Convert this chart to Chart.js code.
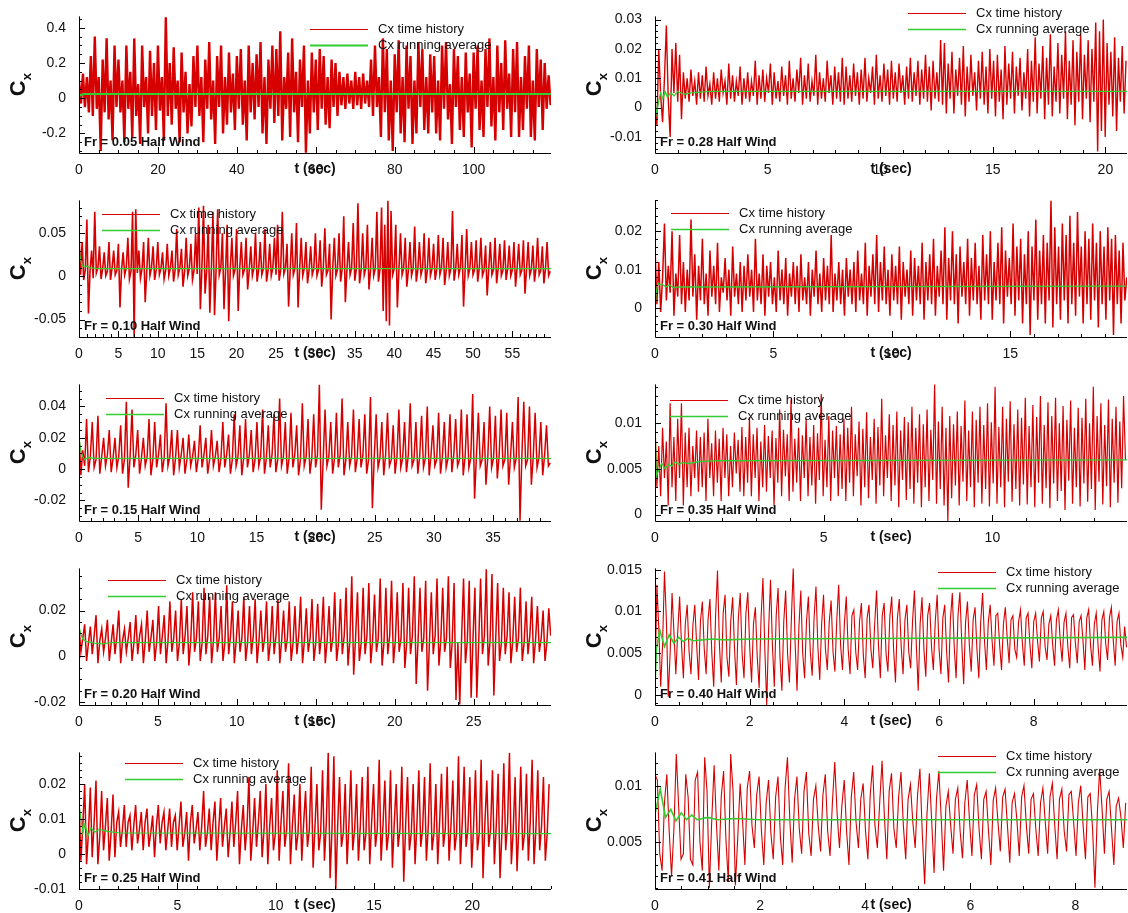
<!DOCTYPE html>
<html>
<head>
<meta charset="utf-8">
<title>Cx time history - Half Wind</title>
<script src="https://cdn.jsdelivr.net/npm/chart.js@4.4.0/dist/chart.umd.min.js"></script>
<style>
    html, body { margin: 0; padding: 0; background: #fff; overflow: hidden; }
    #wrap { position: relative; width: 1128px; height: 913px; }
    #wrap canvas { position: absolute; }
</style>
</head>
<body>
<div id="wrap"></div>
<script>
// ---------- data ----------

// Fr = 0.05, sample step 0.5 s
const dt005 = 0.5;
const cx005 = [
    .1,-.03,.14,-.05,.12,-.08,.24,-.1,.35,-.06,.12,-.3,.22,-.08,.34,-.12,.1,-.24,.3,-.05,
    .22,-.08,.1,-.25,.3,-.06,.15,-.22,.34,-.1,.08,-.26,.3,-.05,.12,-.2,.27,-.1,.2,-.18,
    .3,-.07,.12,-.24,.46,-.1,.2,-.15,.29,-.06,.1,-.25,.26,-.08,.15,-.2,.08,-.16,.24,-.05,
    .3,-.1,.12,-.25,.22,-.06,.32,-.12,.1,-.26,.24,-.05,.3,-.2,.12,-.15,.26,-.08,.14,-.18,
    .24,-.06,.28,-.15,.1,-.24,.3,-.08,.2,-.12,.25,-.05,.32,-.2,.12,-.26,.22,-.06,.3,-.14,
    .28,-.1,.38,-.24,.12,-.06,.26,-.22,.34,-.08,.15,-.25,.22,-.05,.3,-.31,.1,-.2,.26,-.08,
    .22,-.18,.28,-.06,.24,-.15,.12,-.17,.22,-.05,.2,-.1,.15,-.04,.12,-.06,.14,-.03,.1,-.06,
    .15,-.04,.12,-.06,.14,-.03,.1,-.05,.22,-.1,.3,-.05,.12,-.22,.34,-.08,.28,-.24,.1,-.3,
    .25,-.08,.33,-.2,.12,-.25,.3,-.06,.24,-.26,.1,-.2,.32,-.05,.28,-.18,.12,-.2,.25,-.08,
    .24,-.2,.1,-.24,.3,-.06,.32,-.12,.08,-.26,.28,-.05,.24,-.18,.12,-.22,.26,-.08,.14,-.28,
    .26,-.06,.3,-.18,.1,-.22,.28,-.05,.34,-.16,.12,-.24,.3,-.08,.2,-.18,.33,-.06,.14,-.22,
    .28,-.08,.32,-.22,.12,-.18,.24,-.06,.3,-.22,.1,-.24,.28,-.05,.22,-.18,.2,-.06,.13,-.04
];
const avgT005 = [0, 0.5, 1.5, 119.6];
const avg005 = [.012, .02, .024, .024];
const xTicks005 = [0, 20, 40, 60, 80, 100];
const yTicks005 = [-0.2, 0, 0.2, 0.4];

// Fr = 0.10, sample step 0.2 s
const dt010 = 0.2;
const cx010 = [
    .05,.002,.04,-.004,.008,.066,-.043,.006,.03,-.002,.075,.004,.01,.035,-.003,.009,.028,.001,.006,.04,-.004,.01,.03,.002,.007,
    .038,-.036,.008,.028,.002,.01,.045,-.003,.006,.075,-.07,.078,.004,.03,-.002,.009,.04,-.03,.006,.045,.001,.01,.035,-.004,.008,
    .04,.002,.009,.028,-.003,.007,.038,.001,.01,.03,-.006,.008,.055,.002,.01,.032,-.012,.006,.045,.001,.009,.038,-.004,.007,.05,
    .003,.08,-.038,.01,.082,-.02,.006,.06,-.042,.009,.075,-.045,.008,.078,.002,.01,.05,-.038,.007,.06,-.052,.009,.045,.001,.008,
    .055,-.04,.01,.04,.002,.008,.045,-.015,.007,.035,.001,.01,.05,-.006,.008,.04,.002,.009,.055,-.006,.007,.038,.001,.01,.045,
    .002,.06,-.005,.008,.075,.003,.01,.038,-.035,.007,.05,.002,.009,.062,-.036,.008,.045,.001,.01,.04,-.008,.007,.035,.002,.009,
    .05,.001,.008,.042,-.012,.009,.056,.002,.007,.038,-.05,.01,.045,.001,.008,.05,-.006,.009,.07,-.03,.007,.04,.002,.01,.062,
    -.005,.009,.085,-.008,.007,.05,.002,.01,.06,-.015,.008,.045,.001,.009,.075,-.006,.008,.08,-.04,.06,-.052,.088,-.057,.076,.002,
    .009,.06,-.036,.008,.05,.002,.01,.045,-.012,.007,.04,.001,.009,.058,-.006,.008,.04,.002,.01,.05,-.008,.007,.045,.001,.009,
    .038,-.004,.008,.048,.002,.01,.045,-.01,.007,.04,.001,.009,.076,-.005,.008,.038,.002,.01,.048,-.035,.007,.055,.001,.009,.04,
    .002,.008,.042,-.006,.01,.045,.001,.007,.036,-.022,.009,.04,.002,.008,.045,-.008,.01,.038,.001,.007,.042,-.004,.009,.036,.001,
    .008,.04,-.012,.01,.038,.002,.007,.042,-.02,.009,.04,.001,.008,.036,-.006,.01,.045,.002,.007,.035,-.008,.009,.04,.001,.006
];
const avgT010 = [0, 0.2, 0.4, 0.7, 1.0, 1.5, 2.5, 59.9];
const avg010 = [.03, .02, .013, .011, .012, .01, .009, .009];
const xTicks010 = [0, 5, 10, 15, 20, 25, 30, 35, 40, 45, 50, 55];
const yTicks010 = [-0.05, 0, 0.05];

// Fr = 0.15, sample step 0.16 s
const dt015 = 0.16;
const cx015 = [
    .022,-.004,.012,.002,.032,-.002,.008,.03,.001,.006,.034,-.003,.008,.02,.002,.009,.025,-.002,.007,.02,.001,.008,.028,-.003,.006,
    .043,-.012,.008,.038,.001,.009,.025,-.003,.007,.02,.002,.008,.032,-.004,.006,.03,.001,.009,.022,-.002,.007,.042,.002,.008,.025,
    -.004,.007,.025,.001,.009,.02,-.003,.006,.022,.002,.008,.018,-.002,.007,.028,.001,.009,.02,-.003,.006,.025,.002,.008,.018,-.002,
    .007,.03,.001,.009,.022,-.003,.006,.035,.002,.008,.028,-.004,.007,.032,.001,.009,.025,-.002,.006,.03,.002,.008,.038,-.003,.007,
    .028,.001,.009,.035,-.002,.006,.045,.002,.008,.03,-.003,.007,.036,.001,.009,.028,-.004,.006,.042,.002,.008,.032,-.003,.007,.035,
    .001,.009,.054,-.026,.006,.038,.002,.008,.03,-.003,.007,.036,.001,.009,.045,-.004,.006,.03,.002,.008,.038,-.002,.007,.032,.001,
    .009,.035,-.003,.006,.046,-.025,.008,.035,.001,.007,.03,-.004,.009,.036,.002,.006,.028,-.003,.008,.038,.001,.007,.03,-.002,.009,
    .042,.002,.006,.03,-.003,.008,.034,.001,.007,.04,-.004,.009,.028,.002,.006,.036,-.003,.008,.03,.001,.007,.035,-.002,.009,.032,
    .002,.006,.038,-.004,.008,.035,.001,.007,.048,-.019,.009,.036,.002,.006,.03,-.01,.008,.04,.001,.007,.034,-.006,.009,.038,.002,
    .006,.036,-.01,.008,.03,.001,.007,.046,-.033,.009,.043,.002,.006,.04,-.01,.008,.036,.001,.007,.03,-.004,.009,.028,.002,.004
];
const avgT015 = [0, 0.15, 0.3, 0.5, 0.8, 1.2, 39.9];
const avg015 = [.02, .012, .008, .006, .0075, .0068, .0068];
const xTicks015 = [0, 5, 10, 15, 20, 25, 30, 35];
const yTicks015 = [-0.02, 0, 0.02, 0.04];

// Fr = 0.20, sample step 0.12 s
const dt020 = 0.12;
const cx020 = [
    .013,.002,.008,.014,-.002,.006,.013,.001,.009,.018,-.003,.007,.012,.002,.008,.016,-.002,.006,.014,.001,.009,.02,-.003,.007,.012,
    .002,.008,.015,-.002,.006,.018,.001,.009,.014,-.003,.007,.02,.002,.008,.016,-.002,.006,.022,.001,.009,.018,-.003,.007,.024,.002,
    .008,.02,-.002,.006,.025,.001,.009,.022,-.004,.007,.028,.002,.008,.024,-.002,.006,.03,.001,.009,.026,-.003,.007,.028,.002,.008,
    .022,-.002,.006,.031,.001,.009,.024,-.003,.007,.02,.002,.008,.026,-.002,.006,.022,.001,.009,.025,-.003,.007,.02,.002,.008,.024,
    -.002,.006,.022,.001,.009,.025,-.003,.007,.02,.002,.008,.024,-.002,.006,.022,.001,.009,.026,-.003,.007,.021,.002,.008,.025,-.002,
    .006,.023,.001,.009,.026,-.003,.007,.022,.002,.008,.028,-.002,.006,.025,.001,.009,.03,-.004,.007,.035,-.008,.008,.028,-.002,.006,
    .03,.001,.009,.032,-.003,.007,.027,.002,.008,.034,-.004,.006,.03,.001,.009,.033,-.003,.007,.028,.002,.008,.032,-.005,.006,.03,
    .001,.009,.035,-.012,.007,.03,.002,.008,.033,-.015,.006,.028,.001,.009,.034,-.004,.007,.03,.002,.008,.035,-.005,.006,.032,-.019,
    .006,-.021,.009,.034,-.003,.007,.033,-.018,.008,.03,-.018,.006,.034,.001,.009,.038,-.004,.007,.036,-.017,.008,.032,-.002,.006,.03,
    .001,.009,.028,-.003,.007,.026,.002,.008,.03,-.002,.006,.024,.001,.009,.026,-.003,.007,.022,.002,.008,.02,-.002,.006,.021,.009
];
const avgT020 = [0, 0.1, 0.25, 0.5, 1, 1.5, 2, 29.9];
const avg020 = [.013, .01, .0075, .0065, .0058, .0055, .006, .006];
const xTicks020 = [0, 5, 10, 15, 20, 25];
const yTicks020 = [-0.02, 0, 0.02];

// Fr = 0.25, sample step 0.096 s
const dt025 = 0.096;
const cx025 = [
    .016,-.002,.008,.02,-.003,.006,.019,-.001,.009,.021,-.003,.005,.018,.001,.008,.016,-.002,.006,.017,-.001,.009,.012,.002,.007,.014,
    .002,.009,.011,.001,.008,.014,.003,.007,.012,.001,.009,.013,.002,.006,.011,-.001,.008,.014,.003,.009,.012,.001,.007,.013,.002,
    .009,.011,.001,.008,.015,.002,.006,.012,-.002,.009,.014,.003,.007,.012,.001,.008,.018,.002,.006,.013,.001,.009,.015,-.002,.007,
    .016,.002,.008,.013,-.001,.006,.015,.002,.009,.018,-.003,.007,.014,.001,.008,.022,-.002,.006,.016,.002,.009,.018,-.001,.007,.02,
    -.003,.008,.016,.001,.006,.024,-.002,.009,.018,.002,.007,.026,-.003,.008,.017,.001,.006,.02,-.002,.009,.018,.002,.007,.025,-.004,
    .008,.02,.001,.006,.024,-.002,.009,.029,-.007,.007,.028,-.01,.008,.022,.002,.006,.02,-.003,.009,.024,.001,.007,.02,-.002,.008,
    .022,.001,.006,.025,-.003,.009,.02,.002,.007,.027,-.002,.008,.021,.001,.006,.024,-.004,.009,.02,.002,.007,.025,-.008,.008,.022,
    .001,.006,.02,-.003,.009,.024,.002,.007,.022,-.002,.008,.026,.001,.006,.02,-.003,.009,.023,.002,.007,.025,-.002,.008,.021,.001,
    .006,.028,-.003,.009,.025,.002,.007,.022,-.004,.008,.024,.001,.006,.027,-.007,.009,.021,.002,.007,.024,-.003,.008,.023,-.007,.006,
    .026,.001,.009,.029,-.003,.007,.022,-.005,.008,.025,.001,.006,.023,-.002,.009,.027,-.003,.007,.024,.001,.008,.022,-.002,.006,.02
];
const avgT025 = [0, 0.1, 0.2, 0.3, 0.45, 0.6, 0.8, 1, 1.5, 2, 24];
const avg025 = [.014, .01, .006, .0085, .005, .0075, .0062, .007, .0064, .006, .0058];
const xTicks025 = [0, 5, 10, 15, 20];
const yTicks025 = [-0.01, 0, 0.01, 0.02];

// Fr = 0.28, sample step 0.084 s
const dt028 = 0.084;
const cx028 = [
    .002,-.006,.02,.004,-.005,.01,.028,.003,-.01,.02,.005,.022,.002,.018,-.004,.012,.003,.01,.002,.013,.004,.009,.001,.012,.003,
    .011,.002,.014,.004,.008,.001,.012,.003,.01,.002,.013,.005,.009,.001,.015,.003,.011,.002,.009,.004,.014,.001,.01,.003,.012,
    .002,.009,.004,.016,.001,.011,.003,.013,.002,.01,.005,.015,.001,.012,.003,.009,.002,.014,.004,.011,.001,.016,.003,.01,.002,
    .013,.005,.017,.001,.011,.003,.015,.002,.009,.004,.018,.001,.012,.003,.01,.002,.016,.005,.011,.001,.014,.003,.012,.002,.017,
    .001,.014,.003,.011,.002,.015,.004,.012,.001,.013,.003,.017,.002,.01,.005,.014,.001,.018,.003,.011,.002,.015,.004,.013,.001,
    .016,.003,.012,.002,.015,.005,.011,.001,.014,.003,.017,.002,.012,.004,.016,.001,.013,.003,.018,.002,.014,-.001,.016,.003,.012,
    .002,.023,.001,.022,-.002,.015,.003,.019,-.002,.013,.004,.017,.001,.021,-.003,.014,.002,.018,.004,.012,-.001,.016,.003,.019,.001,
    .014,-.002,.02,.003,.016,-.003,.018,.002,.013,-.004,.021,.001,.015,.003,.019,-.002,.014,.004,.017,-.001,.012,.003,.02,-.003,.016,
    .002,.024,-.002,.015,.003,.021,-.004,.017,.001,.025,-.003,.014,.002,.022,-.002,.018,.003,.026,-.004,.016,.001,.023,-.006,.019,.002,
    .025,-.004,.018,.003,.023,-.005,.02,.002,.029,-.015,.026,-.008,.03,-.01,.022,.001,.019,-.003,.024,-.008,.017,.002,.021,-.002,.016
];
const avgT028 = [0, 0.08, 0.16, 0.25, 0.35, 0.45, 0.55, 0.7, 0.85, 1.0, 1.3, 1.6, 2.5, 21];
const avg028 = [.002, -.002, .002, .005, .003, .0055, .0035, .005, .004, .0055, .0045, .005, .0055, .0055];
const xTicks028 = [0, 5, 10, 15, 20];
const yTicks028 = [-0.01, 0, 0.01, 0.02, 0.03];

// Fr = 0.30, sample step 0.08 s
const dt030 = 0.08;
const cx030 = [
    .016,.001,.012,-.001,.008,.022,.002,.011,.004,.02,-.002,.009,.003,.019,.001,.012,-.001,.01,.002,.023,.003,.014,-.003,.011,.002,
    .018,.001,.009,-.002,.015,.003,.011,.001,.017,-.001,.008,.004,.013,.002,.01,-.002,.016,.003,.009,.001,.012,-.001,.011,.002,.014,
    .003,.01,-.001,.018,.002,.009,.001,.014,-.002,.011,.003,.012,.001,.008,-.001,.015,.002,.01,.001,.013,-.002,.009,.003,.012,.001,
    .011,-.001,.014,.002,.008,.001,.012,-.002,.01,.003,.015,.001,.009,-.001,.013,.002,.011,.001,.019,-.001,.009,.002,.012,.001,.01,
    -.002,.013,.003,.01,.001,.012,-.001,.015,.002,.009,.001,.017,-.002,.011,.003,.014,.001,.019,-.001,.012,.002,.016,.001,.01,-.002,
    .014,.002,.011,.001,.016,-.003,.012,.003,.01,.001,.015,-.002,.013,.002,.011,.001,.017,-.003,.012,.002,.014,.001,.018,-.002,.011,
    .003,.015,.001,.021,-.003,.013,.002,.02,.001,.014,-.004,.016,.003,.012,.001,.018,-.002,.013,.002,.017,.001,.011,-.003,.019,.002,
    .014,.001,.02,-.003,.012,.002,.017,.001,.021,-.004,.015,.003,.013,.001,.022,-.002,.016,.002,.018,-.004,.014,.001,.02,-.007,.016,
    .002,.023,-.003,.015,.001,.019,-.004,.017,.002,.028,-.005,.021,.001,.016,-.003,.022,.002,.019,-.004,.024,.001,.017,-.002,.025,.003,
    .016,-.004,.02,.001,.018,-.003,.022,.002,.017,-.005,.02,.001,.016,-.003,.021,.002,.018,-.007,.019,.001,.015,-.004,.017,.002,.008
];
const avgT030 = [0, 0.05, 0.12, 0.2, 0.3, 0.45, 0.6, 0.8, 1.0, 1.5, 19.9];
const avg030 = [0, .004, .0065, .006, .0063, .0055, .006, .0053, .0055, .0055, .0057];
const xTicks030 = [0, 5, 10, 15];
const yTicks030 = [0, 0.01, 0.02];

// Fr = 0.35, sample step 0.056 s
const dt035 = 0.056;
const cx035 = [
    .01,.003,.0075,.002,.0095,.004,.008,.001,.0122,.003,.0085,.0015,.0105,.004,.0122,.001,.009,.003,.0095,.002,.0075,.004,.0092,.0025,.0085,
    .003,.009,.0015,.0105,.004,.0078,.002,.0092,.0035,.0083,.0015,.0095,.004,.0088,.002,.0075,.003,.009,.0045,.0082,.0025,.0096,.002,.0085,.0035,
    .0107,.002,.0088,.004,.0095,.0015,.008,.003,.0098,.0025,.0086,.004,.0092,.001,.0084,.0035,.0115,.002,.0093,.0042,.0088,.0015,.0126,.0025,.0083,
    .0035,.0095,.0015,.0087,.004,.0105,.002,.0085,.0032,.0098,.0012,.0089,.0038,.0132,.002,.0082,.003,.0108,.0015,.0092,.004,.0097,.002,.0088,.0028,
    .0105,.0015,.0095,.0035,.0118,.002,.0088,.0042,.0102,.001,.0094,.003,.0112,.0018,.0085,.0038,.0105,.0012,.0096,.0032,.0127,.002,.0087,.004,.011,
    .0015,.0098,.0032,.0113,.0008,.0092,.0038,.0107,.0016,.0101,.0028,.0118,.0012,.0095,.0035,.011,.0008,.0099,.003,.0115,.0015,.0093,.0038,.0143,.0012,
    .0102,.0028,.0118,.001,.0095,-.0007,.0108,.0018,.0099,.0032,.0113,.001,.0097,.0036,.0125,.0015,.0092,.003,.0113,.0008,.0104,.0035,.0118,.0012,.0098,
    .0028,.0122,.0009,.0101,.0034,.014,.0012,.0096,.003,.0118,.0008,.0105,.0036,.0124,.0014,.0099,.0028,.0115,.001,.0106,.0033,.0128,.0011,.0097,.003,
    .012,.0008,.0107,.0035,.013,.0012,.0098,.0029,.0123,.0007,.0108,.0034,.0128,.0015,.01,.0026,.0119,.0005,.0104,.0037,.0125,.0012,.0095,.003,.0117,
    .0009,.0106,.0034,.0127,.0014,.01,.0028,.014,.0005,.0108,.0036,.0122,.0011,.0098,.0031,.0126,.0008,.0105,.0035,.0118,.0013,.0102,.0029,.013,.006
];
const avgT035 = [0, 0.04, 0.1, 0.2, 0.3, 0.4, 0.5, 0.6, 0.7, 0.8, 1.0, 1.3, 1.8, 14];
const avg035 = [.01, .0042, .0048, .0056, .005, .0055, .0053, .0058, .0055, .0057, .0056, .0058, .0059, .006];
const xTicks035 = [0, 5, 10];
const yTicks035 = [0, 0.005, 0.01];

// Fr = 0.40, sample step 0.04 s
const dt040 = 0.04;
const cx040 = [
    .0012,.0132,.008,.001,.006,.0148,.009,-.0002,.005,.0122,.0075,.0025,.0075,.0118,.006,.002,.0085,.0108,.0052,.0025,.0083,.0108,.006,.0018,.0088,
    .0112,.0055,.0025,.009,.0115,.005,.001,.0095,.0149,.0062,.0015,.0098,.012,.0045,.0022,.0088,.0117,.0055,.0012,.0092,.0122,.005,.002,.0097,.0123,
    .0058,.0015,.0085,.0105,.0045,.0008,.0092,.014,.0055,-.0012,.0078,.0138,.006,.001,.0095,.0128,.0045,.0005,.0088,.0125,.005,.0015,.009,.0152,.0062,
    .0005,.0082,.0125,.005,.002,.0088,.0118,.0052,.0023,.0092,.013,.0058,.0018,.0085,.012,.0055,.003,.0087,.0113,.0052,.0028,.009,.0132,.006,.003,
    .0085,.0118,.0055,.0025,.0095,.0102,.0052,.003,.0088,.011,.0048,.002,.0092,.0108,.0055,.0032,.0085,.0125,.006,.002,.0095,.011,.005,.0028,.0093,
    .0118,.0055,.0015,.0092,.0115,.0058,.0025,.009,.0108,.0052,.0032,.0088,.0125,.006,.0005,.0085,.0117,.0055,.0022,.0095,.011,.0058,.003,.0088,.012,
    .0055,.0025,.0092,.0108,.0052,.0015,.009,.0122,.0058,.002,.0095,.0123,.0062,.0013,.0087,.0112,.006,.0028,.009,.0105,.0055,.002,.0088,.0122,.0065,
    .003,.0087,.0108,.0065,.0035,.0095,.0098,.006,.003,.0085,.0105,.0068,.0038,.009,.0095,.0055,.0045,.0088,.0102,.0062,.0035,.0092,.0098,.006,.0032,
    .0088,.0098,.0065,.004,.0092,.01,.0058,.0042,.0085,.0095,.006,.0035,.009,.0102,.0065,.004,.0087,.0098,.0058,.0032,.0093,.0096,.0062,.0038,.0088,
    .0095,.0065,.003,.0092,.0102,.006,.0035,.0085,.0098,.0058,.0028,.009,.01,.0062,.0042,.0093,.0105,.0065,.0035,.0088,.0098,.006,.0045,.0082,.0057
];
const avgT040 = [0, 0.03, 0.1, 0.2, 0.3, 0.4, 0.5, 0.6, 0.7, 0.8, 1.0, 1.2, 1.5, 2, 9.97];
const avg040 = [.001, .0055, .0078, .0058, .0072, .0062, .0069, .0064, .0068, .0065, .0066, .0067, .0066, .0067, .0069];
const xTicks040 = [0, 2, 4, 6, 8];
const yTicks040 = [0, 0.005, 0.01, 0.015];

// Fr = 0.41, sample step 0.045 s
const dt041 = 0.045;
const cx041 = [
    .011,.0105,.004,.0025,.0085,.011,.006,.002,.0062,.0128,.0082,.0035,.004,.011,.009,.0035,.003,.0105,.0112,.005,
    .0025,.0125,.0095,.001,.007,.0118,.0065,.0025,.009,.0113,.0052,.0015,.0128,.0095,.0012,.0055,.0102,.007,.003,.0098,
    .0113,.0065,.0045,.0092,.0108,.006,.003,.0085,.0105,.0058,.0035,.009,.0108,.0055,.003,.0098,.0125,.007,.0032,.0088,
    .0108,.0062,.004,.0095,.0112,.0058,.0038,.0088,.01,.0065,.0042,.0092,.011,.006,.0038,.0085,.0121,.0075,.0045,.0082,
    .0105,.006,.003,.009,.0112,.0068,.0045,.0088,.0102,.006,.0035,.0092,.0118,.0065,.0045,.0085,.0122,.0072,.0035,.0095,
    .0111,.0062,.0045,.009,.0112,.0065,.0035,.0088,.0101,.0068,.0045,.0092,.0115,.0058,.0013,.0075,.0111,.0068,.0023,.0088,
    .0113,.0072,.0025,.0082,.0095,.0065,.004,.0088,.0098,.006,.0036,.0085,.0105,.0068,.0038,.0092,.0101,.0062,.0035,.0088,
    .0095,.006,.003,.0087,.0098,.0068,.0042,.009,.0097,.0065,.0032,.0085,.0093,.007,.0038,.009,.01,.0065,.004,.0088,
    .0093,.0062,.0038,.0085,.0098,.0068,.004,.009,.0102,.0065,.0035,.0088,.0097,.006,.0042,.0092,.0095,.0068,.0038,.0085,
    .01,.0065,.0035,.009,.0093,.0062,.001,.0075,.0115,.008,.004,.0088,.0095,.0062,.003,.0082,.0089,.0072,.0045,.0085
];
const avgT041 = [0, 0.1, 0.2, 0.3, 0.4, 0.5, 0.6, 0.7, 0.8, 1.0, 1.2, 1.5, 2, 8.98];
const avg041 = [.0075, .0097, .0072, .0079, .0069, .0076, .007, .0074, .007, .0072, .007, .0071, .007, .007];
const xTicks041 = [0, 2, 4, 6, 8];
const yTicks041 = [0.005, 0.01];

// ---------- styling ----------
const red = '#d60000';
const green = '#30cc30';
const fontFamily = '"Liberation Sans", Arial, Helvetica, sans-serif';

// panel layout: col 0 = left column, col 1 = right column; lw = red line width
const panels = [
    { col: 0, row: 0, fr: '0.05', dt: dt005, cx: cx005, avgT: avgT005, avg: avg005, xMax: 119.6, yMin: -0.311, yMax: 0.465, xTicks: xTicks005, yTicks: yTicks005, xMinor: 5, yMinor: 0.05, legend: [310, 29], lw: 2.4, gw: 2 },
    { col: 0, row: 1, fr: '0.10', dt: dt010, cx: cx010, avgT: avgT010, avg: avg010, xMax: 59.9, yMin: -0.0703, yMax: 0.0883, xTicks: xTicks010, yTicks: yTicks010, xMinor: 1, yMinor: 0.01, legend: [102, 214], lw: 1.6, gw: 1.3 },
    { col: 0, row: 2, fr: '0.15', dt: dt015, cx: cx015, avgT: avgT015, avg: avg015, xMax: 39.9, yMin: -0.0332, yMax: 0.0541, xTicks: xTicks015, yTicks: yTicks015, xMinor: 1, yMinor: 0.005, legend: [106, 398], lw: 1.5, gw: 1.3 },
    { col: 0, row: 3, fr: '0.20', dt: dt020, cx: cx020, avgT: avgT020, avg: avg020, xMax: 29.9, yMin: -0.0212, yMax: 0.0384, xTicks: xTicks020, yTicks: yTicks020, xMinor: 1, yMinor: 0.005, legend: [108, 580], lw: 1.5, gw: 1.3 },
    { col: 0, row: 4, fr: '0.25', dt: dt025, cx: cx025, avgT: avgT025, avg: avg025, xMax: 24, yMin: -0.0101, yMax: 0.0291, xTicks: xTicks025, yTicks: yTicks025, xMinor: 1, yMinor: 0.002, legend: [125, 763], lw: 1.5, gw: 1.3 },
    { col: 1, row: 0, fr: '0.28', dt: dt028, cx: cx028, avgT: avgT028, avg: avg028, xMax: 20.96, yMin: -0.0155, yMax: 0.0311, xTicks: xTicks028, yTicks: yTicks028, xMinor: 1, yMinor: 0.002, legend: [908, 13], lw: 1.4, gw: 1.3 },
    { col: 1, row: 1, fr: '0.30', dt: dt030, cx: cx030, avgT: avgT030, avg: avg030, xMax: 19.93, yMin: -0.0075, yMax: 0.028, xTicks: xTicks030, yTicks: yTicks030, xMinor: 1, yMinor: 0.002, legend: [671, 213], lw: 1.5, gw: 1.3 },
    { col: 1, row: 2, fr: '0.35', dt: dt035, cx: cx035, avgT: avgT035, avg: avg035, xMax: 13.99, yMin: -0.0007, yMax: 0.01426, xTicks: xTicks035, yTicks: yTicks035, xMinor: 1, yMinor: 0.001, legend: [670, 400], lw: 1.2, gw: 1.3 },
    { col: 1, row: 3, fr: '0.40', dt: dt040, cx: cx040, avgT: avgT040, avg: avg040, xMax: 9.97, yMin: -0.0012, yMax: 0.01516, xTicks: xTicks040, yTicks: yTicks040, xMinor: 0.5, yMinor: 0.001, legend: [938, 572], lw: 1.1, gw: 1.6 },
    { col: 1, row: 4, fr: '0.41', dt: dt041, cx: cx041, avgT: avgT041, avg: avg041, xMax: 8.98, yMin: 0.00088, yMax: 0.01294, xTicks: xTicks041, yTicks: yTicks041, xMinor: 0.5, yMinor: 0.001, legend: [938, 756], lw: 1.1, gw: 1.6 }
];

function fmtTick(v) {
    return parseFloat(Number(v).toFixed(6)).toString();
}

// inward major/minor ticks, axis lines, titles, legend and Fr label (Tecplot look)
function makeDecorPlugin(p, canvasLeft, canvasTop) {
    return {
        id: 'decor' + p.fr,
        afterDatasetsDraw(chart) {
            const ctx = chart.ctx;
            const a = chart.chartArea;
            const xs = chart.scales.x;
            const ys = chart.scales.y;

            ctx.save();
            ctx.strokeStyle = '#000';
            ctx.lineWidth = 1;

            // axis lines (left + bottom only)
            ctx.beginPath();
            ctx.moveTo(a.left + 0.5, a.top);
            ctx.lineTo(a.left + 0.5, a.bottom + 0.5);
            ctx.lineTo(a.right, a.bottom + 0.5);
            ctx.stroke();

            // x ticks
            ctx.beginPath();
            const kx0 = Math.ceil(xs.min / p.xMinor - 1e-9);
            for (let k = kx0; k * p.xMinor <= xs.max + 1e-9; k++) {
                const v = k * p.xMinor;
                const isMajor = p.xTicks.some(t => Math.abs(t - v) < p.xMinor * 1e-3);
                const px = Math.round(xs.getPixelForValue(v)) + 0.5;
                ctx.moveTo(px, a.bottom);
                ctx.lineTo(px, a.bottom - (isMajor ? 6 : 3));
            }
            // y ticks
            const ky0 = Math.ceil(ys.min / p.yMinor - 1e-9);
            for (let k = ky0; k * p.yMinor <= ys.max + 1e-12; k++) {
                const v = k * p.yMinor;
                const isMajor = p.yTicks.some(t => Math.abs(t - v) < p.yMinor * 1e-3);
                const py = Math.round(ys.getPixelForValue(v)) + 0.5;
                ctx.moveTo(a.left, py);
                ctx.lineTo(a.left + (isMajor ? 6 : 3), py);
            }
            ctx.stroke();

            // legend
            const lx = p.legend[0] - canvasLeft;
            const ly = p.legend[1] - canvasTop;
            ctx.font = '13px ' + fontFamily;
            ctx.textBaseline = 'middle';
            ctx.textAlign = 'left';
            ctx.fillStyle = '#111';
            ctx.strokeStyle = red;
            ctx.lineWidth = 1;
            ctx.beginPath();
            ctx.moveTo(lx, ly + 0.5);
            ctx.lineTo(lx + 58, ly + 0.5);
            ctx.stroke();
            ctx.fillText('Cx time history', lx + 68, ly);
            ctx.strokeStyle = green;
            ctx.lineWidth = p.gw;
            ctx.beginPath();
            ctx.moveTo(lx, ly + 16.5);
            ctx.lineTo(lx + 58, ly + 16.5);
            ctx.stroke();
            ctx.fillText('Cx running average', lx + 68, ly + 16);

            // Fr label
            ctx.font = 'bold 13px ' + fontFamily;
            ctx.fillStyle = '#111';
            ctx.fillText('Fr = ' + p.fr + ' Half Wind', a.left + 5, a.bottom - 11);

            // x title
            ctx.font = 'bold 14px ' + fontFamily;
            ctx.textAlign = 'center';
            ctx.fillText('t (sec)', (a.left + a.right) / 2, a.bottom + 16);

            // y title: C with subscript x, rotated
            ctx.translate(a.left - 60, (a.top + a.bottom) / 2);
            ctx.rotate(-Math.PI / 2);
            ctx.textAlign = 'left';
            ctx.font = 'bold 22px ' + fontFamily;
            const wC = ctx.measureText('C').width;
            ctx.font = 'bold 13px ' + fontFamily;
            const wx = ctx.measureText('x').width;
            const x0 = -(wC + wx) / 2;
            ctx.font = 'bold 22px ' + fontFamily;
            ctx.fillText('C', x0, 0);
            ctx.font = 'bold 13px ' + fontFamily;
            ctx.fillText('x', x0 + wC, 8);

            ctx.restore();
        }
    };
}

function renderPanel(p) {
    const canvasLeft = p.col === 0 ? 0 : 576;
    const plotTop = 13 + 184 * p.row;
    const canvasTop = plotTop - 10;

    const canvas = document.createElement('canvas');
    canvas.width = p.col === 0 ? 555 : 552;
    canvas.height = 180;
    canvas.style.left = canvasLeft + 'px';
    canvas.style.top = canvasTop + 'px';
    document.getElementById('wrap').appendChild(canvas);

    const history = p.cx.map((v, i) => ({ x: i * p.dt, y: v })).filter(pt => pt.x <= p.xMax);
    const running = p.avgT.map((t, i) => ({ x: t, y: p.avg[i] }));

    return new Chart(canvas, {
        type: 'line',
        data: {
            datasets: [{
                    label: 'Cx running average',
                    data: running,
                    borderColor: green,
                    borderWidth: p.gw,
                    pointRadius: 0,
                    tension: 0,
                    order: 0
                },
                {
                    label: 'Cx time history',
                    data: history,
                    borderColor: red,
                    borderWidth: p.lw,
                    pointRadius: 0,
                    tension: 0,
                    order: 1
                }
            ]
        },
        options: {
            responsive: false,
            animation: false,
            events: [],
            layout: { padding: { top: 10, right: p.col === 0 ? 4 : 1, left: 0, bottom: 0 } },
            plugins: {
                legend: { display: false },
                tooltip: { enabled: false }
            },
            scales: {
                x: {
                    type: 'linear',
                    min: 0,
                    max: p.xMax,
                    grid: { display: false },
                    border: { display: false },
                    afterBuildTicks: s => { s.ticks = p.xTicks.map(v => ({ value: v })); },
                    afterFit: s => { s.height = 30; },
                    ticks: {
                        padding: 1,
                        autoSkip: false,
                        maxRotation: 0,
                        color: '#111',
                        font: { family: fontFamily, size: 14 },
                        callback: v => fmtTick(v)
                    }
                },
                y: {
                    type: 'linear',
                    min: p.yMin,
                    max: p.yMax,
                    grid: { display: false },
                    border: { display: false },
                    afterBuildTicks: s => { s.ticks = p.yTicks.map(v => ({ value: v })); },
                    afterFit: s => { s.width = 79; },
                    ticks: {
                        padding: 5,
                        autoSkip: false,
                        color: '#111',
                        font: { family: fontFamily, size: 14 },
                        callback: v => fmtTick(v)
                    }
                }
            }
        },
        plugins: [makeDecorPlugin(p, canvasLeft, canvasTop)]
    });
}

panels.forEach(p => renderPanel(p));
</script>
</body>
</html>
